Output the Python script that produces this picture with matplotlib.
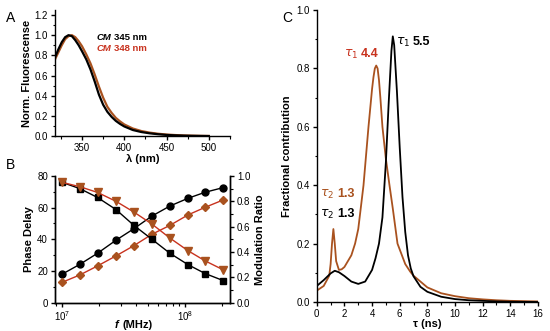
import matplotlib.pyplot as plt
import matplotlib.ticker as mticker
import numpy as np

plt.rcParams['font.family'] = ['Liberation Sans', 'DejaVu Sans']
plt.rcParams['font.size'] = 7
plt.rcParams['axes.linewidth'] = 1.0

# Panel A: normalized emission spectra
wl = [318, 322, 326, 330, 334, 338, 342, 346, 350, 355, 360, 365, 370, 375, 380,
      385, 390, 395, 400, 410, 420, 430, 440, 450, 460, 470, 480, 490, 500]
fl_345 = [0.78, 0.86, 0.93, 0.98, 1.0, 0.99, 0.95, 0.90, 0.84, 0.76, 0.66, 0.54, 0.41,
          0.31, 0.24, 0.19, 0.15, 0.12, 0.095, 0.06, 0.04, 0.027, 0.018, 0.011, 0.007,
          0.004, 0.002, 0.001, 0.0]
fl_348 = [0.76, 0.83, 0.90, 0.96, 0.99, 1.0, 0.98, 0.94, 0.89, 0.81, 0.72, 0.61, 0.49,
          0.38, 0.29, 0.23, 0.18, 0.145, 0.115, 0.075, 0.05, 0.034, 0.023, 0.015, 0.01,
          0.006, 0.004, 0.002, 0.001]

# Panel B: frequency-domain data
freq = [10e6, 14e6, 19.5e6, 27.5e6, 38.5e6, 54e6, 75.5e6, 106e6, 146e6, 204e6]
phase_345 = [17.9, 24.2, 31.2, 39.4, 46.7, 54.7, 61.0, 65.9, 69.7, 72.6]
phase_348 = [12.8, 17.5, 23.2, 29.5, 36.0, 43.2, 48.8, 55.4, 60.2, 64.8]
mod_345 = [0.95, 0.90, 0.83, 0.735, 0.61, 0.50, 0.39, 0.30, 0.23, 0.175]
mod_348 = [0.95, 0.915, 0.87, 0.80, 0.715, 0.62, 0.51, 0.41, 0.33, 0.26]

# Panel C: lifetime distributions
tau_k = [0, 0.5, 1.0, 1.3, 1.6, 2.0, 2.5, 3.0, 3.5, 4.0, 4.25, 4.5, 4.75, 5.0, 5.2,
         5.4, 5.5, 5.6, 5.8, 6.0, 6.2, 6.4, 6.6, 6.8, 7.0, 7.5, 8, 9, 10, 11, 12, 13,
         14, 16]
frac_k = [0.055, 0.075, 0.098, 0.107, 0.102, 0.089, 0.07, 0.062, 0.07, 0.11, 0.15,
          0.2, 0.29, 0.48, 0.68, 0.86, 0.91, 0.88, 0.72, 0.53, 0.36, 0.24, 0.16, 0.115,
          0.088, 0.052, 0.035, 0.018, 0.01, 0.006, 0.004, 0.002, 0.001, 0.0]
tau_r = [0, 0.5, 0.9, 1.0, 1.1, 1.2, 1.3, 1.4, 1.6, 1.8, 2.0, 2.5, 2.77, 3.0, 3.38,
         3.74, 4.0, 4.1, 4.2, 4.3, 4.4, 4.5, 4.6, 4.75, 5.0, 5.26, 5.5, 5.84, 6.0, 6.4,
         6.76, 7.0, 7.5, 8, 9, 10, 11, 12, 13, 14, 15, 16]
frac_r = [0.039, 0.055, 0.09, 0.13, 0.2, 0.25, 0.2, 0.14, 0.11, 0.112, 0.12, 0.16,
          0.2, 0.25, 0.4, 0.6, 0.73, 0.77, 0.80, 0.81, 0.80, 0.76, 0.70, 0.6, 0.49,
          0.4, 0.32, 0.2, 0.18, 0.13, 0.104, 0.09, 0.07, 0.05, 0.03, 0.02, 0.013,
          0.009, 0.006, 0.004, 0.003, 0.002]

black = 'black'
orange = '#a9521f'
red = '#c8321e'

fig = plt.figure(figsize=(5.5, 3.31), dpi=100)

# ---- A ----
axA = fig.add_axes([0.1, 0.589, 0.318, 0.381])
axA.plot(wl, fl_348, color=orange, lw=1.6)
axA.plot(wl, fl_345, color=black, lw=1.6)
axA.set_xlim(318, 525)
axA.set_ylim(0, 1.25)
axA.xaxis.set_major_locator(mticker.MultipleLocator(50))
axA.xaxis.set_minor_locator(mticker.MultipleLocator(25))
axA.yaxis.set_major_locator(mticker.FixedLocator([0, 0.2, 0.4, 0.6, 0.8, 1.0, 1.2]))
axA.yaxis.set_minor_locator(mticker.MultipleLocator(0.1))
axA.yaxis.set_major_formatter(mticker.FormatStrFormatter('%.1f'))
axA.spines['top'].set_visible(False)
axA.spines['right'].set_visible(False)
axA.set_ylabel('Norm. Fluorescense', fontsize=8, fontweight='bold', labelpad=2)
axA.set_xlabel('λ (nm)', fontsize=8, fontweight='bold', labelpad=1)
for yy, col, lab in [(0.765, black, '345 nm'), (0.675, red, '348 nm')]:
    axA.annotate('CM', (0.24, yy), xycoords='axes fraction', fontsize=6.8,
                 fontweight='bold', fontstyle='italic', color=col)
    axA.annotate(lab, (0.24, yy), xycoords='axes fraction', xytext=(12.5, 0),
                 textcoords='offset points', fontsize=6.8, fontweight='bold', color=col)

# ---- B ----
axB = fig.add_axes([0.1, 0.0855, 0.318, 0.383])
axB.plot(freq, phase_345, color=black, lw=1, marker='o', ms=5)
axB.plot(freq, phase_348, color=red, lw=1, marker='D', ms=4,
         mfc=orange, mec=orange)
axB.set_xscale('log')
axB.set_xlim(8.8e6, 2.32e8)
axB.set_ylim(0, 80)
axB.yaxis.set_major_locator(mticker.MultipleLocator(20))
axB.yaxis.set_minor_locator(mticker.MultipleLocator(10))
axB.spines['top'].set_visible(False)
axB.set_ylabel('Phase Delay', fontsize=8, fontweight='bold', labelpad=2)
axB2 = axB.twinx()
axB2.plot(freq, mod_345, color=black, lw=1, marker='s', ms=5)
axB2.plot(freq, mod_348, color=red, lw=1, marker='v', ms=5.5,
          mfc=orange, mec=orange)
axB2.set_ylim(0, 1.0)
axB2.yaxis.set_major_locator(mticker.MultipleLocator(0.2))
axB2.yaxis.set_minor_locator(mticker.MultipleLocator(0.1))
axB2.yaxis.set_major_formatter(mticker.FormatStrFormatter('%.1f'))
axB2.spines['top'].set_visible(False)
axB2.set_ylabel('Modulation Ratio', fontsize=8, fontweight='bold', labelpad=3)
fig.text(0.208, 0.008, 'f', fontsize=8, fontweight='bold', fontstyle='italic')
fig.text(0.222, 0.008, '(MHz)', fontsize=8, fontweight='bold')

# ---- C ----
axC = fig.add_axes([0.576, 0.0876, 0.402, 0.882])
axC.plot(tau_r, frac_r, color=orange, lw=1.3)
axC.plot(tau_k, frac_k, color=black, lw=1.3)
axC.set_xlim(0, 16)
axC.set_ylim(0, 1.0)
axC.xaxis.set_major_locator(mticker.MultipleLocator(2))
axC.xaxis.set_minor_locator(mticker.MultipleLocator(1))
axC.yaxis.set_major_locator(mticker.MultipleLocator(0.2))
axC.yaxis.set_minor_locator(mticker.MultipleLocator(0.1))
axC.yaxis.set_major_formatter(mticker.FormatStrFormatter('%.1f'))
axC.spines['top'].set_visible(False)
axC.spines['right'].set_visible(False)
axC.set_ylabel('Fractional contribution', fontsize=8, fontweight='bold', labelpad=3)
axC.set_xlabel('τ (ns)', fontsize=8, fontweight='bold', labelpad=0)
for xx, yy, col, tau_lab, num in [(5.75, 0.88, black, r'$\tau_1$', '5.5'),
                                  (1.95, 0.84, red, r'$\tau_1$', '4.4'),
                                  (0.25, 0.36, orange, r'$\tau_2$', '1.3'),
                                  (0.25, 0.29, black, r'$\tau_2$', '1.3')]:
    axC.annotate(tau_lab, (xx, yy), fontsize=9, color=col)
    axC.annotate(num, (xx, yy), xytext=(12, 0), textcoords='offset points',
                 fontsize=9, fontweight='bold', color=col)

for ax in (axA, axB, axB2, axC):
    ax.tick_params(which='major', length=3, width=1, pad=2, labelsize=7)
    ax.tick_params(which='minor', length=1.8, width=0.8)

fig.text(0.01, 0.935, 'A', fontsize=10)
fig.text(0.01, 0.49, 'B', fontsize=10)
fig.text(0.513, 0.935, 'C', fontsize=10)

fig.savefig('out.png', dpi=100)
